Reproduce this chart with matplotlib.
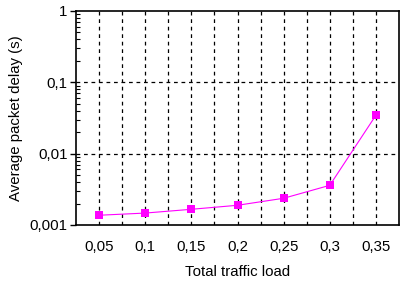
import numpy as np
import matplotlib
matplotlib.use("Agg")
import matplotlib.pyplot as plt
from matplotlib.ticker import FixedLocator, LogLocator, NullFormatter

plt.rcParams["font.family"] = ["Liberation Sans", "DejaVu Sans"]

load = [0.05, 0.1, 0.15, 0.2, 0.25, 0.3, 0.35]
delay = [0.00137, 0.00147, 0.00166, 0.00189, 0.00237, 0.0036, 0.0346]
x_labels = ["0,05", "0,1", "0,15", "0,2", "0,25", "0,3", "0,35"]
y_ticks = [0.001, 0.01, 0.1, 1]
y_labels = ["0,001", "0,01", "0,1", "1"]

fs = 10.8

fig = plt.figure(figsize=(4.09, 2.85), dpi=100)
ax = fig.add_axes([76 / 409, 1 - 225 / 285, 323 / 409, 214 / 285])

ax.set_yscale("log")
ax.set_ylim(0.001, 1)
ax.set_xlim(0.025, 0.375)

# dashed grid: every 0.025 on x, every decade on y
for gx in np.arange(0.05, 0.351, 0.025):
    ax.axvline(gx, color="black", linestyle=(0, (3, 3)), linewidth=0.9, zorder=1)
for gy in [0.01, 0.1]:
    ax.axhline(gy, color="black", linestyle=(0, (3, 3)), linewidth=0.9, zorder=1)

ax.plot(load, delay, color="#ff00ff", linewidth=0.8, marker="s",
        markersize=6, markeredgewidth=0, zorder=3)

ax.set_xticks(load)
ax.set_xticklabels(x_labels, fontsize=fs)
ax.tick_params(axis="x", length=0, pad=11)

ax.yaxis.set_major_locator(FixedLocator(y_ticks))
ax.set_yticklabels(y_labels, fontsize=fs)
ax.yaxis.set_minor_locator(LogLocator(base=10, subs=np.arange(2, 10)))
ax.yaxis.set_minor_formatter(NullFormatter())
ax.tick_params(axis="y", which="major", direction="out", length=4, width=1, pad=2)
ax.tick_params(axis="y", which="minor", direction="in", length=3, width=0.8)
ax.tick_params(axis="y", which="both", right=False)

for sp in ax.spines.values():
    sp.set_linewidth(1.2)
    sp.set_color("black")

ax.set_xlabel("Total traffic load", fontsize=fs, labelpad=8)
ax.set_ylabel("Average packet delay (s)", fontsize=fs, labelpad=5)

fig.savefig("out.png", dpi=100)
